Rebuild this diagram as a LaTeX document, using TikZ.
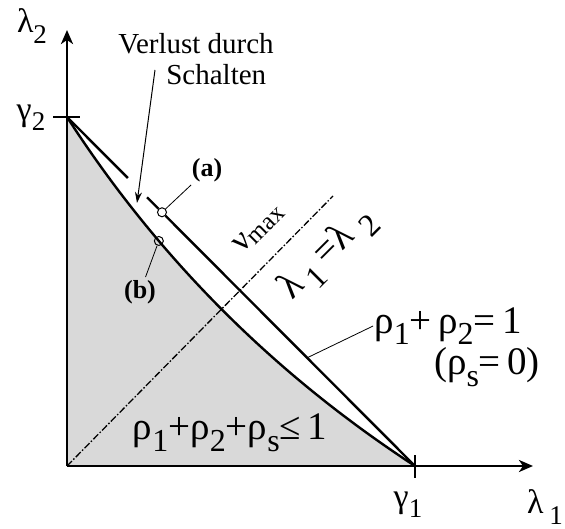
\documentclass[tikz,border=0pt]{standalone}
\usepackage{fontspec}
\setmainfont{Liberation Serif}
\usetikzlibrary{arrows.meta, positioning, calc}
\tikzstyle{axis} = [line width=2.6pt, -{Stealth[length=14pt,width=12pt,inset=4pt]}]
\tikzstyle{bound} = [line width=2.4pt]
\tikzstyle{tick} = [line width=2.4pt]
\tikzstyle{leader} = [line width=0.8pt]
\tikzstyle{diag} = [line width=1.3pt, dash pattern=on 7pt off 2pt on 1.5pt off 2pt]
\tikzstyle{ring} = [circle, draw, line width=1pt, fill=none, inner sep=0pt, minimum size=9pt]
\tikzstyle{lbl} = [font=\fontsize{34}{36}\selectfont, inner sep=1pt]
\tikzstyle{eq} = [font=\fontsize{39}{41}\selectfont, inner sep=1pt]
\tikzstyle{note} = [font=\fontsize{29}{31}\selectfont, align=center, inner sep=1pt]
\tikzstyle{tag} = [font=\fontsize{26}{28}\selectfont\bfseries, inner sep=3pt]
\tikzstyle{arrow} = [line width=1pt, -{Stealth[length=11pt,width=7pt]}]
\newcommand{\lo}[1]{\raisebox{-0.3em}{\fontsize{27}{27}\selectfont #1}}
\newcommand{\loeq}[1]{\raisebox{-0.3em}{\fontsize{32}{32}\selectfont #1}}

\begin{document}
\begin{tikzpicture}[x=1pt, y=-1pt]
        \useasboundingbox (0,0) rectangle (565,529);

        % Corners and control points
        \coordinate (O) at (67,466);
        \coordinate (g2) at (67,117);
        \coordinate (g1) at (415,466);
        \coordinate (ytip) at (67,30);
        \coordinate (xtip) at (533,466);
        \coordinate (c1) at (158,258);
        \coordinate (c2) at (274,374);
        \coordinate (dd) at (333,196);

        % Feasible region
        \fill [black!15] (O) -- (g2) .. controls (c1) and (c2) .. (g1) -- cycle;

        % Diagonal
        \draw [diag] (O) -- (dd);

        % Boundaries
        \path (g2) -- (g1)
            coordinate[pos=0.175] (gapa)
            coordinate[pos=0.23] (gapb)
            node[ring, pos=0.273] (pa) {}
            coordinate[pos=0.69] (pl);
        \draw [bound] (g2) -- (gapa);
        \draw [bound] (gapb) -- (pa) -- (g1);
        \draw [bound] (g2) .. controls (c1) and (c2) .. (g1)
            node[ring, pos=0.31] (pb) {};

        % Axes and ticks
        \draw [axis] (O) -- (ytip);
        \draw [axis] (O) -- (xtip);
        \draw [tick] ($(g2)+(-14,0)$) -- ($(g2)+(13,0)$);
        \draw [tick] ($(g1)+(0,-11)$) -- ($(g1)+(0,12)$);

        % Axis labels
        \node (l2) [lbl] at (32,26) {λ\lo{2}};
        \node (lg2) [lbl] at (31,118) {γ\lo{2}};
        \node (lg1) [lbl] at (408,505) {γ\lo{1}};
        \node (l1) [lbl] at (545,507) {λ\,\lo{1}};

        % Annotations
        \node (verlust) [note] at (196,59) {Verlust durch\\\hspace*{1.4em}Schalten};
        \coordinate (vstart) at (155,70);
        \coordinate (vtip) at (137,203);
        \draw [arrow] (vstart) -- (vtip);

        \node (la) [tag] at (207,170) {(a)};
        \node (lb) [tag] at (140,292) {(b)};
        \draw [leader] (pa) -- (la);
        \draw [leader] (pb) -- (lb);

        \node (vmax) [lbl, rotate=45, inner sep=0pt] at (259,229) {ν\raisebox{-0.1em}{\fontsize{25}{25}\selectfont max}};
        \node (equal) [eq, rotate=45, inner sep=0pt] at (328,254) {λ\,\loeq{1}\,=λ\;\loeq{2}};

        \node (eqline) [eq] at (448,326) {ρ\loeq{1}+\,ρ\loeq{2}=\,1};
        \node (slack) [eq] at (487,367) {(ρ\loeq{s}=\,0)};
        \draw [leader] (pl) -- (eqline.west);

        \node (region) [eq] at (230,433) {ρ\loeq{1}+ρ\loeq{2}+ρ\loeq{s}≤\,1};

    \end{tikzpicture}
\end{document}
